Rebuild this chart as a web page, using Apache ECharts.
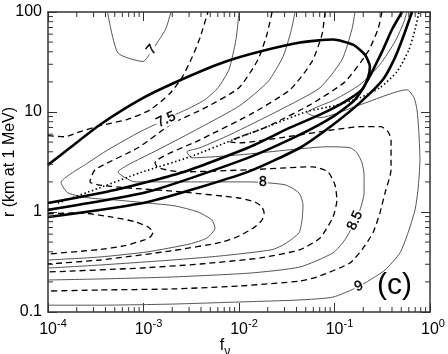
<!DOCTYPE html>
<html lang="en">
<head>
<meta charset="UTF-8">
<title>r vs f_nu contours</title>
<style>html,body{margin:0;padding:0;background:#fff}</style>
</head>
<body>
<div id="main" style="width:448px;height:354px"></div>
<script src="https://cdn.jsdelivr.net/npm/echarts@6/dist/echarts.min.js"></script>
<script>
// contour lines, points are [f_nu, r]
const c7 = [[4.2e-4,100],[5.4e-4,39],[9.9e-4,32],[1.2e-3,40],[1.7e-3,67],[1.94e-3,100]];
const c725a = [[1e-4,5.8],[1.51e-4,5.65],[2.01e-4,6.2],[3.5e-4,7.3],[6.7e-4,8.4],[1.17e-3,10.5],[1.89e-3,15.3],[2.53e-3,22.1],[3.22e-3,35],[3.91e-3,55.5],[4.73e-3,100]];
const c725b = [[1e-4,0.96],[2.16e-4,0.98],[4.68e-4,0.89],[8.15e-4,0.80],[1.11e-3,0.71],[1.26e-3,0.63],[1.17e-3,0.56],[1.04e-3,0.53],[6.4e-4,0.46],[3.34e-4,0.42],[1e-4,0.38]];
const c75 = [[1e-2,100],[9.3e-3,53],[7.85e-3,26.5],[6.03e-3,17.5],[4.41e-3,13.3],[3.07e-3,11],[2.14e-3,9.4],[1.38e-3,7.64],[9.2e-4,6.35],[4.25e-4,4.19],[2.62e-4,3.1],[1.37e-4,1.96],[1.62e-4,1.55],[2.75e-4,1.38],[5.03e-4,1.32],[1.11e-3,1.23],[2.14e-3,1.15],[3.72e-3,1.0],[5.21e-3,0.83],[5.61e-3,0.69],[4.62e-3,0.55],[3.07e-3,0.48],[1.11e-3,0.40],[3.5e-4,0.355],[1e-4,0.331]];
const c775 = [[2.22e-2,100],[1.96e-2,59.6],[1.58e-2,33.4],[1e-2,17.5],[4.41e-3,11],[1.99e-3,7.64],[8.75e-4,4.39],[3.11e-4,2.64],[2.75e-4,2.0],[3.34e-4,1.87],[6.4e-4,1.75],[2.47e-3,1.59],[1e-2,1.38],[1.47e-2,1.26],[1.74e-2,1.12],[1.83e-2,0.98],[1.74e-2,0.83],[1.47e-2,0.71],[1.02e-2,0.58],[6.64e-3,0.50],[1.99e-3,0.41],[3.5e-4,0.331],[1e-4,0.302]];
const c8 = [[3.86e-2,100],[3.5e-2,63.8],[2.89e-2,35.8],[2.01e-2,20.1],[1.02e-2,11.6],[3.91e-3,6.97],[1.42e-3,4.19],[6.88e-4,2.96],[5.41e-4,2.52],[8.15e-4,2.0],[3.91e-3,2.0],[1.24e-2,2.0],[3.03e-2,1.87],[4.25e-2,1.55],[4.68e-2,1.18],[4.57e-2,0.83],[4.25e-2,0.62],[3.03e-2,0.48],[2.22e-2,0.42],[6.32e-3,0.363],[1.99e-3,0.331],[3.5e-4,0.295],[1e-4,0.275]];
const c825 = [[7.96e-2,100],[7.4e-2,59.6],[5.81e-2,31.9],[3.42e-2,16.7],[1.3e-2,9.4],[3.91e-3,5.27],[1.32e-3,3.1],[1.42e-3,2.77],[2.47e-3,2.52],[1.24e-2,2.64],[5.95e-2,2.83],[8.55e-2,2.52],[0.101,1.87],[0.106,1.32],[9.64e-2,0.89],[7.05e-2,0.55],[4.35e-2,0.42],[1.66e-2,0.347],[3.91e-3,0.302],[9.2e-4,0.275],[1e-4,0.251]];
const c85 = [[0.164,100],[0.152,66.8],[0.12,33.4],[7.05e-2,17.5],[2.69e-2,10.5],[8.05e-3,5.93],[3.91e-3,4.39],[2.85e-3,4.0],[3.22e-3,3.48],[1.02e-2,3.73],[3.42e-2,4.19],[8.34e-2,4.49],[0.145,4.39],[0.172,3.91],[0.194,3.1],[0.204,2.36],[0.204,1.55],[0.185,1.05],[0.164,0.80],[0.129,0.53],[9.64e-2,0.39],[4.35e-2,0.282],[1.3e-2,0.245],[1.99e-3,0.224],[3.5e-4,0.214],[1e-4,0.209]];
const c875 = [[0.314,100],[0.285,66.8],[0.224,40.2],[0.129,20.1],[5.54e-2,11.8],[1.87e-2,6.97],[8.05e-3,5.04],[1.02e-2,4.92],[2.69e-2,5.52],[9.88e-2,6.65],[0.185,7.13],[0.307,7.13],[0.363,6.35],[0.391,5.27],[0.391,2.64],[0.338,1.55],[0.299,0.98],[0.253,0.62],[0.194,0.42],[0.145,0.309],[6.56e-2,0.224],[4.35e-2,0.204],[1.02e-2,0.182],[1.99e-3,0.17],[3.5e-4,0.166],[1e-4,0.162]];
const c9 = [[0.574,100],[0.521,75],[0.43,50.6],[0.299,29.8],[0.185,18.8],[0.101,13.3],[5.15e-2,9.84],[7.05e-2,8.77],[0.185,11.8],[0.574,16.7],[0.68,13.9],[0.731,10.5],[0.767,5.93],[0.785,3.33],[0.748,1.66],[0.697,1.05],[0.589,0.62],[0.485,0.39],[0.338,0.263],[0.235,0.209],[0.176,0.178],[9.64e-2,0.141],[4.35e-2,0.132],[1.02e-2,0.126],[1.99e-3,0.12],[3.5e-4,0.117],[1e-4,0.117]];
const dotted = [[1.27e-4,1.23],[3.5e-4,1.75],[9.2e-4,2.47],[3.07e-3,3.56],[8.65e-3,5.27],[2.11e-2,7.29],[5.15e-2,10.1],[0.101,11.6],[0.185,13.9],[0.299,17.5],[0.451,25.3],[0.603,42.1],[0.697,66.8],[0.767,100]];
// heavy curves
const thickLoop = [[1e-4,2.96],[1.7e-4,4.39],[3.5e-4,7.46],[9.2e-4,13.3],[2.14e-3,19.7],[6.79e-3,31.2],[1.66e-2,40.2],[4.35e-2,49.5],[9.64e-2,53],[0.156,47.2],[0.208,37.5],[0.235,28.4],[0.224,22.1],[0.194,16.7],[0.129,12.7],[7.05e-2,9.4],[3.42e-2,6.97],[1.24e-2,4.39],[2.47e-3,2.47],[5.03e-4,1.66],[1e-4,1.23]];
const thickA = [[1e-4,1.05],[1.11e-3,1.59],[1.24e-2,3.48],[4.35e-2,5.93],[9.64e-2,8.97],[0.164,13.3],[0.224,21.1],[0.322,42.1],[0.4,66.8],[0.509,100]];
const thickB = [[1e-4,0.89],[1.11e-3,1.26],[1.24e-2,2.52],[4.35e-2,4.39],[9.64e-2,7.46],[0.185,12.4],[0.322,21.1],[0.43,35],[0.521,55.5],[0.648,100]];

// contour level labels
const levelText = ['7', '7.5', '8', '8.5', '9'];
const levelAt = [[1.22e-3,42],[1.72e-3,8.4],[1.78e-2,2.0],[0.164,0.82],[0.18,0.18]];
const levelTilt = [50, 25, 0, 65, 25];

// ticks
const yTickText = ['0.1', '1', '10', '100'];
const xMinor = [2e-4,3e-4,4e-4,5e-4,6e-4,7e-4,8e-4,9e-4,2e-3,3e-3,4e-3,5e-3,6e-3,7e-3,8e-3,9e-3,2e-2,3e-2,4e-2,5e-2,6e-2,7e-2,8e-2,9e-2,0.2,0.3,0.4,0.5,0.6,0.7,0.8,0.9];
const yMinor = [0.2,0.3,0.4,0.5,0.6,0.7,0.8,0.9,2,3,4,5,6,7,8,9,20,30,40,50,60,70,80,90];

const font = 'Liberation Sans';
const axisCol = '#333';

const thin = { color: '#555', width: 1 };
const dash = { color: '#000', width: 1.3, type: [6, 4] };
const heavy = { color: '#000', width: 2.6 };
const dots = { color: '#000', width: 1.6, type: [1.5, 2.5] };

function line(data, style) {
  return { type: 'line', data: data, showSymbol: false, symbol: 'none', smooth: 0.2,
    lineStyle: style, silent: true, z: 2 };
}

function minorX(params, api) {
  const cs = params.coordSys;
  const x = api.coord([api.value(0), 1])[0];
  const st = { stroke: axisCol, lineWidth: 1 };
  return { type: 'group', children: [
    { type: 'line', shape: { x1: x, y1: cs.y + cs.height, x2: x, y2: cs.y + cs.height - 5 }, style: st },
    { type: 'line', shape: { x1: x, y1: cs.y, x2: x, y2: cs.y + 5 }, style: st }
  ] };
}
function minorY(params, api) {
  const cs = params.coordSys;
  const y = api.coord([1e-2, api.value(1)])[1];
  const st = { stroke: axisCol, lineWidth: 1 };
  return { type: 'group', children: [
    { type: 'line', shape: { x1: cs.x, y1: y, x2: cs.x + 5, y2: y }, style: st },
    { type: 'line', shape: { x1: cs.x + cs.width, y1: y, x2: cs.x + cs.width - 5, y2: y }, style: st }
  ] };
}
// level numbers sitting on the contours, with a white box cutting the line
function levelLabel(params, api) {
  const p = api.coord([api.value(0), api.value(1)]);
  const i = params.dataIndex;
  return {
    type: 'text', x: p[0], y: p[1], rotation: levelTilt[i] * Math.PI / 180,
    style: {
      text: levelText[i], font: '14px "Liberation Sans"', fill: '#000',
      stroke: '#000', lineWidth: 0.4,
      align: 'center', verticalAlign: 'middle', backgroundColor: '#fff', padding: [0, 1]
    }
  };
}

const xCommon = {
  type: 'log', logBase: 10, min: 1e-4, max: 1,
  axisLine: { show: true, onZero: false, lineStyle: { color: axisCol, width: 1.5 } },
  axisTick: { show: true, inside: true, length: 9, lineStyle: { color: axisCol, width: 1 } },
  splitLine: { show: false }
};
const yCommon = {
  type: 'log', logBase: 10, min: 0.1, max: 100,
  axisLine: { show: true, onZero: false, lineStyle: { color: axisCol, width: 1.5 } },
  axisTick: { show: true, inside: true, length: 9, lineStyle: { color: axisCol, width: 1 } },
  splitLine: { show: false }
};

const chart = echarts.init(document.getElementById('main'), null, { renderer: 'canvas' });

const option = {
  animation: false,
  backgroundColor: '#fff',
  grid: { left: 48, right: 18, top: 12, bottom: 42, containLabel: false, outerBoundsMode: 'none' },
  xAxis: [
    Object.assign({}, xCommon, {
      position: 'bottom',
      name: '{f|f}{n|ν}',
      nameLocation: 'middle',
      nameGap: 26,
      nameMoveOverlap: false,
      nameTextStyle: {
        padding: [0, 28, 0, 0],
        rich: {
          f: { fontFamily: font, fontSize: 16, color: '#000', verticalAlign: 'top' },
          n: { fontFamily: font, fontSize: 12, color: '#000', verticalAlign: 'top', padding: [8, 0, 0, 0] }
        }
      },
      axisLabel: {
        margin: 6,
        formatter: function (v) {
          const e = Math.round(Math.log10(v));
          return e === 0 ? '{b0|10}{s|0}' : '{b|10}{s|' + e + '}';
        },
        rich: {
          b: { fontFamily: font, fontSize: 16, color: '#000', verticalAlign: 'bottom', padding: [0, 0, 0, 10] },
          b0: { fontFamily: font, fontSize: 16, color: '#000', verticalAlign: 'bottom', padding: [0, 0, 0, 6] },
          s: { fontFamily: font, fontSize: 11, color: '#000', verticalAlign: 'bottom', padding: [0, 0, 9, 0] }
        }
      }
    }),
    Object.assign({}, xCommon, { position: 'top', axisLabel: { show: false } })
  ],
  yAxis: [
    Object.assign({}, yCommon, {
      position: 'left',
      name: 'r (km at 1 MeV)',
      nameLocation: 'middle',
      nameGap: 30,
      nameMoveOverlap: false,
      nameTextStyle: { fontFamily: font, fontSize: 16, color: '#000' },
      axisLabel: {
        margin: 6, fontFamily: font, fontSize: 16, color: '#000',
        formatter: function (v) { return yTickText[Math.round(Math.log10(v)) + 1]; }
      }
    }),
    Object.assign({}, yCommon, { position: 'right', axisLabel: { show: false } })
  ],
  graphic: [{
    type: 'text', left: 377, top: 271, silent: true,
    style: { text: '(c)', font: '30px "Liberation Sans"', fill: '#000' }
  }],
  series: [
    line(c7, thin),
    line(c725a, dash),
    line(c725b, dash),
    line(c75, thin),
    line(c775, dash),
    line(c8, thin),
    line(c825, dash),
    line(c85, thin),
    line(c875, dash),
    line(c9, thin),
    line(dotted, dots),
    line(thickLoop, heavy),
    line(thickA, heavy),
    line(thickB, heavy),
    { type: 'custom', silent: true, renderItem: levelLabel, z: 5, data: levelAt },
    {
      type: 'custom', silent: true, renderItem: minorX, z: 6,
      data: xMinor.map(function (v) { return [v, 1]; })
    },
    {
      type: 'custom', silent: true, renderItem: minorY, z: 6,
      data: yMinor.map(function (v) { return [1e-2, v]; })
    }
  ]
};

chart.setOption(option);
</script>
</body>
</html>
